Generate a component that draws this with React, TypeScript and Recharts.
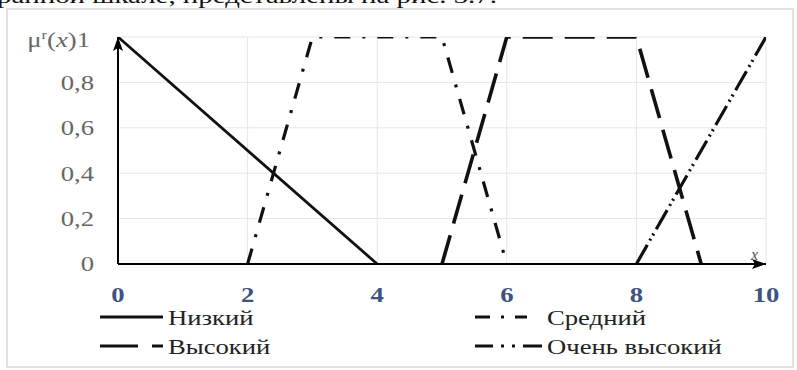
import { CartesianGrid, Line, LineChart, XAxis, YAxis } from 'recharts';

// membership functions, one array of breakpoints per term
const LOW = [
  { x: 0, y: 1 },
  { x: 4, y: 0 },
];
const MEDIUM = [
  { x: 2, y: 0 },
  { x: 3, y: 1 },
  { x: 5, y: 1 },
  { x: 6, y: 0 },
];
const HIGH = [
  { x: 5, y: 0 },
  { x: 6, y: 1 },
  { x: 8, y: 1 },
  { x: 9, y: 0 },
];
const VERY_HIGH = [
  { x: 8, y: 0 },
  { x: 10, y: 1 },
];

const X_TICKS = [0, 2, 4, 6, 8, 10];
const Y_TICKS = [0, 0.2, 0.4, 0.6, 0.8, 1];
const TERM_NAMES = ['Низкий', 'Средний', 'Высокий', 'Очень высокий'];

const SERIF = '"Liberation Serif", "Times New Roman", serif';
const STRETCH = 'scale(1.27,1)';

const SERIES = [
  { key: 'low', name: TERM_NAMES[0], data: LOW, dash: undefined, width: 2.8, legendDash: undefined, col: 0, row: 0 },
  { key: 'mid', name: TERM_NAMES[1], data: MEDIUM, dash: '16 12 3 12', width: 3.2, legendDash: '15 11 3 11 12 40', col: 1, row: 0 },
  { key: 'high', name: TERM_NAMES[2], data: HIGH, dash: '30 12', width: 3.6, legendDash: '38 14', col: 0, row: 1 },
  { key: 'vhigh', name: TERM_NAMES[3], data: VERY_HIGH, dash: '22 5 2 4 2 5', width: 3.2, legendDash: '18 8 3 8 3 8 20 40', col: 1, row: 1 },
];

const fmt = (v: number) => String(v).replace('.', ',');

const XTick = ({ x, y, payload }: any) => (
  <g transform={`translate(${x},${y + 30})`}>
    <text
      transform={STRETCH}
      textAnchor="middle"
      fontFamily={SERIF}
      fontSize={21}
      fontWeight="bold"
      fill="#3e5382"
    >
      {payload.value}
    </text>
  </g>
);

const YTick = ({ y, payload }: any) => {
  const v = payload.value as number;
  return (
    <g transform={`translate(${v === 1 ? 90 : 94},${y + (v === 1 ? 3 : 0)})`}>
      <text
        transform={STRETCH}
        textAnchor="end"
        dy="0.35em"
        fontFamily={SERIF}
        fontSize={21}
        fill="#666"
      >
        {v === 1 ? (
          <>
            <tspan>μ</tspan>
            <tspan dy={-8} fontSize={13}>r</tspan>
            <tspan dy={8}>(</tspan>
            <tspan fontStyle="italic">x</tspan>
            <tspan>)1</tspan>
          </>
        ) : (
          fmt(v)
        )}
      </text>
    </g>
  );
};

const LEGEND_X = [100, 475];
const LEGEND_Y = [317, 346];

export default function App() {
  return (
    <div style={{ position: 'absolute', left: 0, top: 0, width: 797, height: 370, background: '#fff', overflow: 'hidden' }}>
      <svg width={797} height={370} style={{ position: 'absolute', left: 0, top: 0 }}>
        <defs>
          <marker
            id="axArrow"
            viewBox="0 0 14 10"
            refX={14}
            refY={5}
            markerWidth={14}
            markerHeight={10}
            markerUnits="userSpaceOnUse"
            orient="auto-start-reverse"
          >
            <path d="M0,0 L14,5 L0,10 L3,5 Z" fill="#000" />
          </marker>
        </defs>
        <text x={-3} y={3} fontFamily={SERIF} fontSize={22} fill="#111" textLength={500} lengthAdjust="spacingAndGlyphs">
          ранной шкале, представлены на рис. 3.7.
        </text>
        <rect x={7} y={9} width={786} height={358} fill="none" stroke="#e2e2e2" strokeWidth={2} />
        <text x={751} y={260} fontFamily={SERIF} fontSize={16} fontStyle="italic" fill="#555">
          x
        </text>
        {SERIES.map((s) => {
          const lx = LEGEND_X[s.col];
          const ly = LEGEND_Y[s.row];
          const len = s.col === 0 ? 63 : 67;
          return (
            <g key={s.key}>
              <line
                x1={lx}
                x2={lx + len}
                y1={ly}
                y2={ly}
                stroke="#111"
                strokeWidth={3}
                strokeDasharray={s.legendDash}
              />
              <g transform={`translate(${lx + len + 5},${ly + 8})`}>
                <text transform={STRETCH} fontFamily={SERIF} fontSize={21} fill="#222">
                  {s.name}
                </text>
              </g>
            </g>
          );
        })}
      </svg>
      <div style={{ position: 'absolute', left: 0, top: 0 }}>
        <LineChart width={797} height={330} margin={{ top: 37, right: 31, bottom: 0, left: 8 }} style={{ overflow: 'visible' }}>
          <CartesianGrid stroke="#e6e6e6" strokeWidth={1} />
          <XAxis
            type="number"
            dataKey="x"
            domain={[0, 10]}
            ticks={X_TICKS}
            interval={0}
            height={66}
            tickLine={false}
            axisLine={{ stroke: '#000', strokeWidth: 2, markerEnd: 'url(#axArrow)' }}
            tick={<XTick />}
            allowDataOverflow
          />
          <YAxis
            type="number"
            dataKey="y"
            domain={[0, 1]}
            ticks={Y_TICKS}
            interval={0}
            width={110}
            tickLine={false}
            axisLine={{ stroke: '#000', strokeWidth: 2, markerStart: 'url(#axArrow)' }}
            tick={<YTick />}
            allowDataOverflow
          />
          {SERIES.map((s) => (
            <Line
              key={s.key}
              data={s.data}
              dataKey="y"
              name={s.name}
              type="linear"
              stroke="#111"
              strokeWidth={s.width}
              strokeDasharray={s.dash}
              strokeLinecap="butt"
              dot={false}
              activeDot={false}
              isAnimationActive={false}
            />
          ))}
        </LineChart>
      </div>
    </div>
  );
}
